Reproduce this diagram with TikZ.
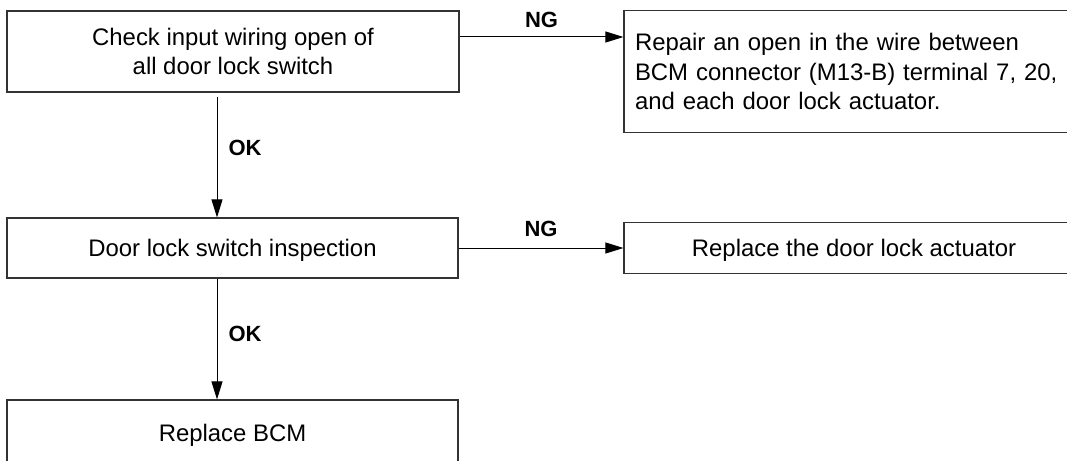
\documentclass[tikz,border=0pt]{standalone}
\usepackage{fontspec}
\setmainfont{Liberation Sans}
\usetikzlibrary{arrows.meta}

\begin{document}
\begin{tikzpicture}[x=1pt,y=-1pt,
  stepbox/.style={draw=black!80, line width=1.2pt, rectangle, inner sep=0pt,
    font=\fontsize{23.9pt}{29.5pt}\selectfont, align=center},
  oneline/.style={text depth=0pt},
  flow/.style={draw=black, line width=1pt, -{Triangle[length=18pt,width=11pt]}},
  tag/.style={font=\fontsize{22pt}{24pt}\selectfont\bfseries, inner sep=0pt}]
  \useasboundingbox (0,0) rectangle (1067,460);
  \clip (0,0) rectangle (1067,460);

  % main column
  \node[stepbox, minimum width=452pt, minimum height=81pt] (check) at (233,51.5)
    {Check input wiring open of\\all door lock switch};
  \node[stepbox, oneline, minimum width=451pt, minimum height=60pt] (inspect) at (232.5,248)
    {Door lock switch inspection};
  \node[stepbox, oneline, minimum width=451pt, minimum height=66pt] (bcm) at (232.5,433)
    {Replace BCM};

  % NG results
  \node[stepbox, align=left, text width=438pt, inner xsep=11pt, minimum height=122pt]
    (repair) at (854,71.5)
    {Repair an open in the wire between\\BCM connector (M13-B) terminal 7, 20,\\and each door lock actuator.};
  \node[stepbox, oneline, minimum width=460pt, minimum height=50.5pt] (actuator) at (854,248)
    {Replace the door lock actuator};

  % NG branches
  \draw[flow] ([yshift=14.5pt]check.east) -- ([yshift=14.5pt]check.east -| repair.west)
    node[tag, midway, yshift=17pt] {NG};
  \draw[flow] (inspect.east) -- (inspect.east -| actuator.west)
    node[tag, midway, yshift=19pt] {NG};

  % OK branches
  \draw[flow, shorten <=4pt] ([xshift=-16pt]check.south) -- ([xshift=-16pt]check.south |- inspect.north)
    node[tag, midway, xshift=28pt, yshift=7pt] {OK};
  \draw[flow] ([xshift=-15.5pt]inspect.south) -- ([xshift=-15.5pt]inspect.south |- bcm.north)
    node[tag, midway, xshift=28pt, yshift=5pt] {OK};
\end{tikzpicture}
\end{document}
